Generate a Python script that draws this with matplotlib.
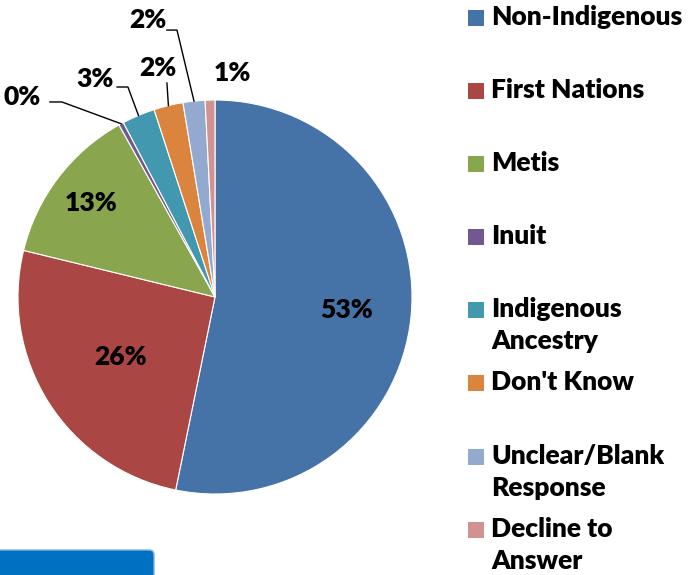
import matplotlib.pyplot as plt
import numpy as np
from matplotlib.patches import Rectangle, FancyBboxPatch

plt.rcParams['font.family'] = ['Lato', 'DejaVu Sans']

categories = ['Non-Indigenous', 'First Nations', 'Metis', 'Inuit',
              'Indigenous\nAncestry', "Don't Know", 'Unclear/Blank\nResponse',
              'Decline to\nAnswer']
shares = [53.2, 25.6, 13.1, 0.4, 2.7, 2.4, 1.8, 0.8]
colors = ['#4572A7', '#AA4643', '#89A54E', '#71588F',
          '#4198AF', '#DB843D', '#93A9CF', '#D19392']

# label placement (data coords of a unit pie)
inner_r = {0: 0.67, 1: 0.57, 2: 0.79}
outer_pos = {3: (-0.98, 1.015), 4: (-0.61, 1.107), 5: (-0.29, 1.162),
             6: (-0.34, 1.406), 7: (0.09, 1.137)}
leaders = {3: [(-0.838, 0.99), (-0.777, 0.99)],
           4: [(-0.497, 1.066), (-0.442, 1.066)],
           5: [(-0.244, 1.086)],
           6: [(-0.244, 1.355), (-0.193, 1.355)]}

FS = 19
WT = 'heavy'

fig = plt.figure(figsize=(6.88, 5.75), dpi=100)
cx, cy, R = 215, 297, 197
ax = fig.add_axes([(cx - R) / 688, (575 - cy - R) / 575, 2 * R / 688, 2 * R / 575])
wedges, _ = ax.pie(shares, colors=colors, startangle=90, counterclock=False,
                   radius=1, wedgeprops=dict(edgecolor='white', linewidth=0.8))
ax.set_xlim(-1, 1)
ax.set_ylim(-1, 1)
ax.set_aspect('auto')
ax.axis('off')

for i, (w, v) in enumerate(zip(wedges, shares)):
    mid = np.deg2rad((w.theta1 + w.theta2) / 2)
    txt = '%.0f%%' % v
    if i in inner_r:
        r = inner_r[i]
        ax.text(r * np.cos(mid), r * np.sin(mid), txt, ha='center', va='center',
                fontsize=FS, fontweight=WT)
    else:
        x, y = outer_pos[i]
        ax.text(x, y, txt, ha='center', va='center', fontsize=FS,
                fontweight=WT, clip_on=False)
        if i in leaders:
            pts = leaders[i] + [(np.cos(mid), np.sin(mid))]
            xs, ys = zip(*pts)
            ax.plot(xs, ys, color='black', lw=1, clip_on=False)

# legend
ys = [18, 91, 164, 237, 310, 383, 457, 530]
for y, lab, c in zip(ys, categories, colors):
    fig.patches.append(Rectangle((468 / 688, 1 - (y + 8) / 575), 16 / 688, 16 / 575,
                                 transform=fig.transFigure, facecolor=c, edgecolor='none'))
    fig.text(491 / 688, 1 - (y - 13) / 575, lab, ha='left', va='top', fontsize=FS,
             fontweight=WT, linespacing=1.4)

# blue tab at the bottom
tab = FancyBboxPatch((-20, -20), 174, 45, boxstyle='round,pad=0,rounding_size=5',
                     transform=None, facecolor='#0070C0', edgecolor='#7FB2DE', lw=1)
fig.patches.append(tab)

fig.savefig('out.png', dpi=100)
